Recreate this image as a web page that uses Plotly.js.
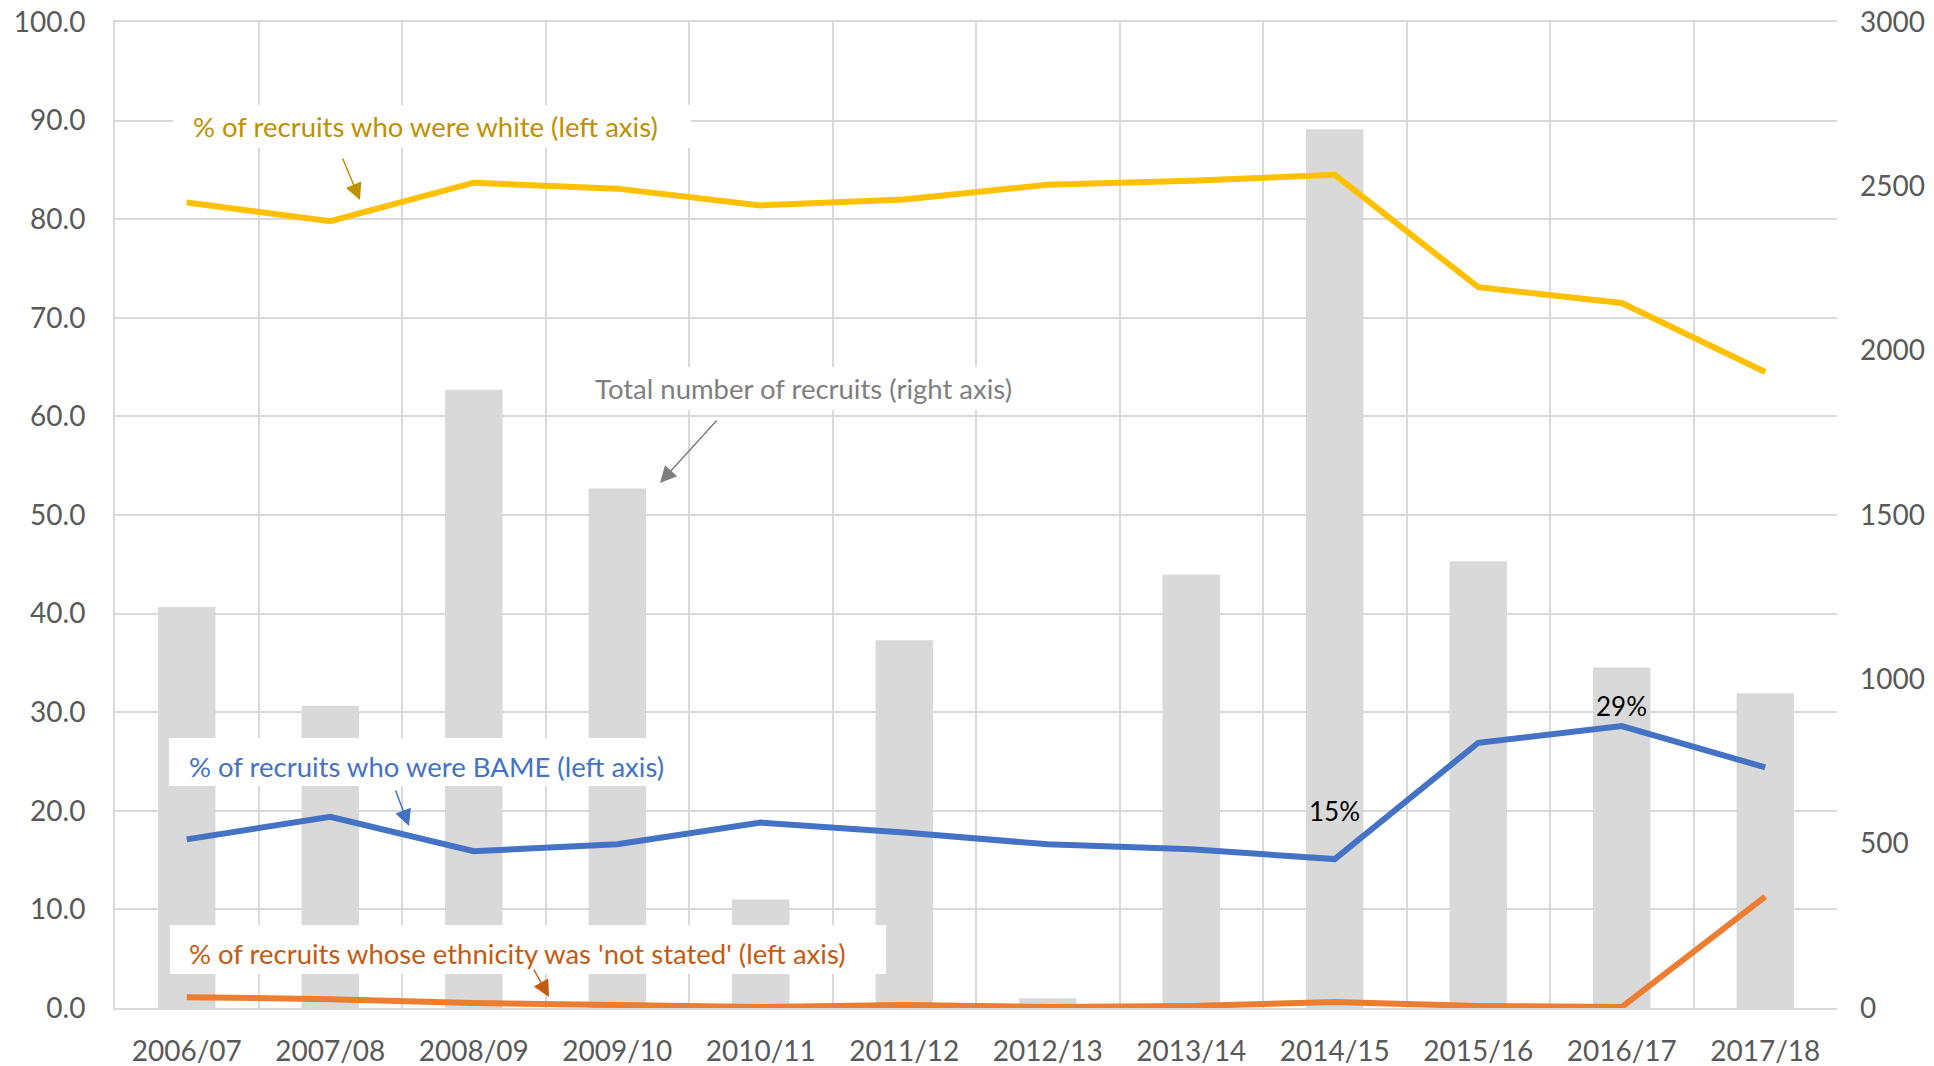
<!DOCTYPE html>
<html>
<head>
<meta charset="utf-8">
<script src="https://cdn.plot.ly/plotly-3.0.1.min.js"></script>
<style>html,body{margin:0;padding:0;background:#fff;}#chart{width:1934px;height:1066px;}</style>
</head>
<body>
<div id="chart"></div>
<script>
const years = ['2006/07','2007/08','2008/09','2009/10','2010/11','2011/12','2012/13','2013/14','2014/15','2015/16','2016/17','2017/18'];
const totalRecruits = [1220, 920, 1881, 1581, 330, 1119, 30, 1318, 2674, 1359, 1036, 958];
const pctWhite = [81.7, 79.8, 83.7, 83.1, 81.4, 82.0, 83.5, 83.9, 84.5, 73.1, 71.5, 64.5];
const pctBAME = [17.1, 19.4, 15.9, 16.6, 18.8, 17.8, 16.6, 16.1, 15.1, 26.9, 28.6, 24.4];
const pctNotStated = [1.1, 0.9, 0.5, 0.3, 0.1, 0.3, 0.1, 0.2, 0.6, 0.2, 0.1, 11.3];
const labelledBAME = ['2014/15', '2016/17'];
const labelShift = [48, 20];

const FONT = 'Lato, "Liberation Sans", sans-serif';
const L = 115, R = 1837, T = 22, B = 1008;
const px = x => (x - L) / (R - L);
const py = y => (B - y) / (B - T);

const traces = [
  {type:'bar', x: years, y: totalRecruits, yaxis:'y', marker:{color:'#D9D9D9'}, name:'Total number of recruits', hoverinfo:'x+y'},
  {type:'scatter', mode:'lines', x: years, y: pctWhite, yaxis:'y2', line:{color:'#FFC000', width:6}, name:'% white'},
  {type:'scatter', mode:'lines', x: years, y: pctBAME, yaxis:'y2', line:{color:'#4472C4', width:6}, name:'% BAME'},
  {type:'scatter', mode:'lines', x: years, y: pctNotStated, yaxis:'y2', line:{color:'#ED7D31', width:6}, name:'% not stated'}
];

function box(x0, x1, y0, y1) {
  return {type:'rect', xref:'paper', yref:'paper', x0:px(x0), x1:px(x1), y0:py(y1), y1:py(y0),
          fillcolor:'#ffffff', line:{width:0}, layer:'above'};
}
function label(text, x, y, color) {
  return {text:text, xref:'paper', yref:'paper', x:px(x), y:py(y), xanchor:'left', yanchor:'middle',
          showarrow:false, font:{family:FONT, size:27.5, color:color}};
}
function arrow(hx, hy, tx, ty, color) {
  return {text:'', xref:'paper', yref:'paper', x:px(hx), y:py(hy), ax:tx-hx, ay:ty-hy,
          showarrow:true, arrowhead:2, arrowsize:2.2, arrowwidth:1.5, arrowcolor:color};
}

const annotations = [
  label('% of recruits who were white (left axis)', 191, 127, '#BF9000'),
  label('Total number of recruits (right axis)', 593, 388, '#7F7F7F'),
  label('% of recruits who were BAME (left axis)', 187, 766, '#4472C4'),
  label("% of recruits whose ethnicity was 'not stated' (left axis)", 187, 953, '#C55A11'),
  arrow(360, 200, 342, 157, '#BF9000'),
  arrow(660, 483, 718, 419, '#7F7F7F'),
  arrow(409, 826, 395, 789, '#4472C4'),
  arrow(549, 997, 533, 968, '#C55A11')
];
labelledBAME.forEach((yr, k) => {
  const i = years.indexOf(yr);
  annotations.push({text: Math.round(pctBAME[i]) + '%', x: yr, y: pctBAME[i], xref:'x', yref:'y2',
    yanchor:'middle', yshift:labelShift[k], showarrow:false, font:{family:FONT, size:26, color:'#000000'}});
});

const layout = {
  width:1934, height:1066,
  margin:{l:L, r:1934-R, t:T, b:1066-B},
  paper_bgcolor:'#ffffff', plot_bgcolor:'#ffffff',
  showlegend:false,
  bargap:0.6,
  font:{family:FONT, color:'#595959', size:28},
  xaxis:{type:'category', range:[-0.5, 11.5], tickson:'boundaries', showgrid:true, gridcolor:'#D9D9D9', gridwidth:2,
         ticks:'', showline:true, mirror:true, linecolor:'#D9D9D9', linewidth:2,
         tickfont:{family:FONT, size:28, color:'#595959'}, ticklabelstandoff:17},
  yaxis:{side:'right', range:[0,3000], dtick:500, tick0:0, showgrid:false, zeroline:false,
         tickfont:{family:FONT, size:28, color:'#595959'}, ticklabelstandoff:22, ticks:''},
  yaxis2:{side:'left', overlaying:'y', range:[0,100], dtick:10, tick0:0, tickformat:'.1f', showgrid:true,
          gridcolor:'#D9D9D9', gridwidth:2, zeroline:false, showline:true, linecolor:'#D9D9D9', linewidth:2,
          tickfont:{family:FONT, size:28, color:'#595959'}, ticklabelstandoff:22, ticks:''},
  shapes:[
    box(173, 691, 105, 148),
    box(580, 1030, 367, 410),
    box(169, 676, 738, 786),
    box(170, 886, 925, 974)
  ],
  annotations: annotations
};

Plotly.newPlot('chart', traces, layout, {displayModeBar:false, staticPlot:true});
</script>
</body>
</html>
